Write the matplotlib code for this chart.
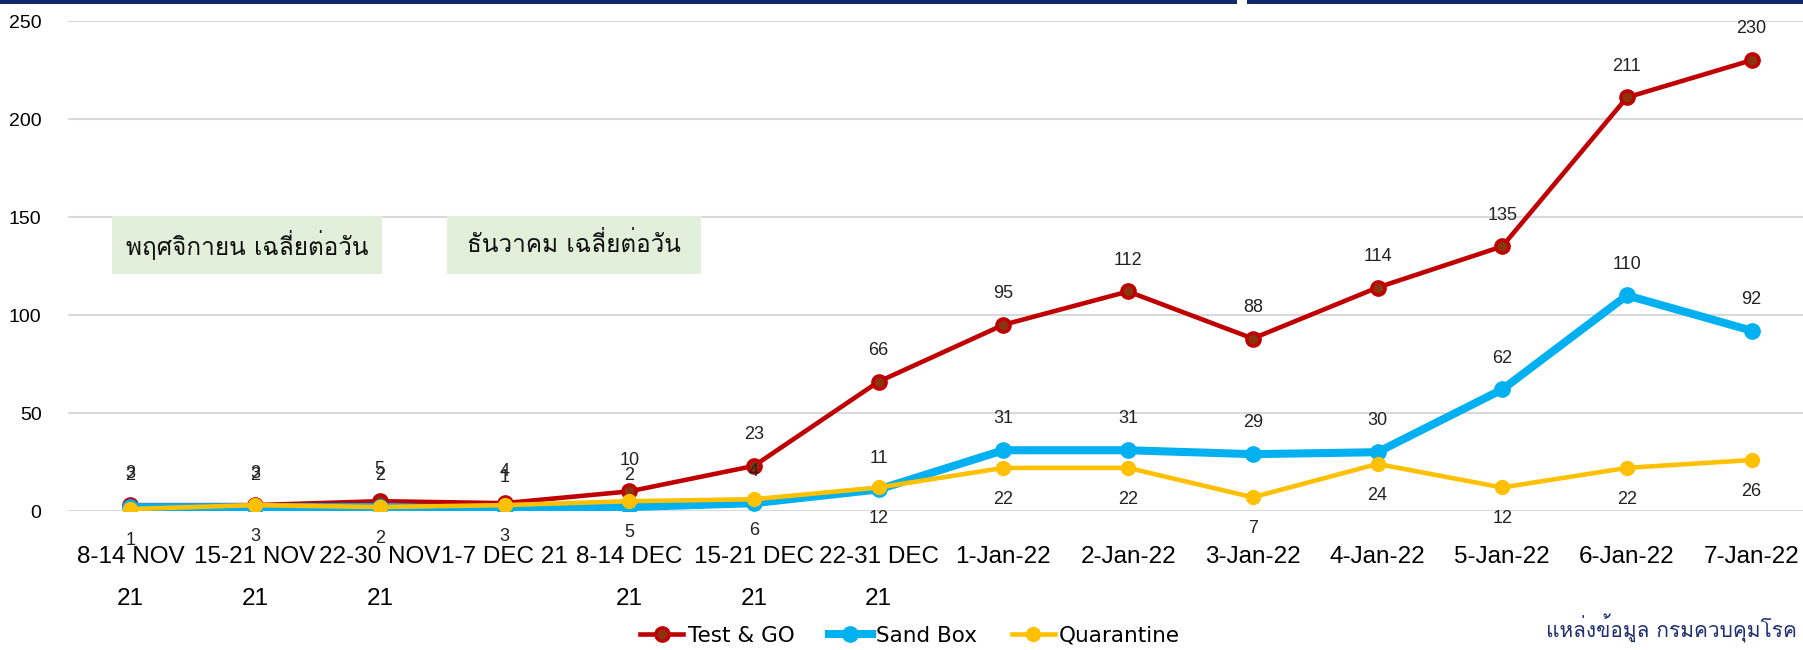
import matplotlib
matplotlib.use("Agg")
import matplotlib.pyplot as plt
from matplotlib import font_manager
from matplotlib.patches import Rectangle
from fontTools.ttLib import TTFont

# ---------------- data ----------------
categories = ["8-14 NOV\n21", "15-21 NOV\n21", "22-30 NOV\n21", "1-7 DEC 21",
              "8-14 DEC\n21", "15-21 DEC\n21", "22-31 DEC\n21", "1-Jan-22",
              "2-Jan-22", "3-Jan-22", "4-Jan-22", "5-Jan-22", "6-Jan-22", "7-Jan-22"]
test_go = [3, 3, 5, 4, 10, 23, 66, 95, 112, 88, 114, 135, 211, 230]
sand_box = [2, 2, 2, 1, 2, 4, 11, 31, 31, 29, 30, 62, 110, 92]
quarantine = [1, 3, 2, 3, 5, 6, 12, 22, 22, 7, 24, 12, 22, 26]
yticks = [0, 50, 100, 150, 200, 250]
box_labels = ["พฤศจิกายน เฉลี่ยต่อวัน", "ธันวาคม เฉลี่ยต่อวัน"]
source_text = "แหล่งข้อมูล กรมควบคุมโรค"


def thai_font():
    # look for any installed font that covers Thai
    for f in font_manager.fontManager.ttflist:
        try:
            cmap = TTFont(f.fname, fontNumber=0, lazy=True).getBestCmap()
            if cmap and 0x0E01 in cmap and 0x0E40 in cmap:
                return f.name
        except Exception:
            pass
    return "DejaVu Sans"


lib = ["Liberation Sans", "DejaVu Sans"]
thai = [thai_font(), "DejaVu Sans"]

RED, BLUE, YEL = "#c00000", "#00b0f0", "#ffc000"

fig = plt.figure(figsize=(18.03, 6.5), dpi=100)
W, H = 1803, 650
ax = fig.add_axes([68 / W, (H - 511) / H, 1746 / W, 490 / H])
x = list(range(len(categories)))

ax.plot(x, test_go, color=RED, lw=3.3, marker="o", ms=9.5, mfc="#8a3510",
        mec=RED, mew=2.5, zorder=3, label="Test & GO")
ax.plot(x, sand_box, color=BLUE, lw=5.8, marker="o", ms=11, mfc=BLUE,
        mec=BLUE, zorder=4, label="Sand Box")
ax.plot(x, quarantine, color=YEL, lw=3.3, marker="o", ms=10, mfc=YEL,
        mec=YEL, zorder=5, label="Quarantine")

for xi, v in zip(x, test_go):
    ax.annotate(str(v), (xi, v), xytext=(0, 22.5), textcoords="offset points",
                ha="center", va="center", fontsize=13, family=lib, color="#222222")
for xi, v in zip(x, sand_box):
    ax.annotate(str(v), (xi, v), xytext=(0, 22.5), textcoords="offset points",
                ha="center", va="center", fontsize=13, family=lib, color="#222222")
for xi, v in zip(x, quarantine):
    ax.annotate(str(v), (xi, v), xytext=(0, -22.5), textcoords="offset points",
                ha="center", va="center", fontsize=13, family=lib, color="#222222")

ax.set_xlim(-0.5, len(categories) - 0.5)
ax.set_ylim(0, 250)
ax.set_yticks(yticks)
ax.set_xticks(x)
ax.set_xticklabels(categories, fontsize=17.5, family=lib, linespacing=2.2, va="top")
ax.tick_params(axis="x", length=0, pad=25)
ax.tick_params(axis="y", length=0, pad=19)
for lab in ax.get_yticklabels():
    lab.set_fontsize(14)
    lab.set_family(lib)
ax.grid(axis="y", color="#d9d9d9", lw=1.5)
ax.set_axisbelow(True)
for s in ax.spines.values():
    s.set_visible(False)

leg = fig.legend(loc="center", bbox_to_anchor=(910 / W, (H - 636) / H), ncol=3,
                 frameon=False, fontsize=15.5, handlelength=2.0, handletextpad=0.2,
                 columnspacing=1.6)

# green note boxes
for (x0, x1), txt in zip([(112, 382), (447, 701)], box_labels):
    fig.patches.append(Rectangle((x0 / W, (H - 274) / H), (x1 - x0) / W, 58 / H,
                                 transform=fig.transFigure, facecolor="#e2efda",
                                 edgecolor="none", zorder=1))
    fig.text((x0 + x1) / 2 / W, (H - 245) / H, txt, ha="center", va="center",
             fontsize=17.5, family=thai, color="#111111", zorder=6)

fig.text(1797 / W, (H - 628) / H, source_text, ha="right", va="center",
         fontsize=15, family=thai, color="#1f3070")

# top navy bar
fig.patches.append(Rectangle((0, 1 - 4 / H), 1237 / W, 4 / H, transform=fig.transFigure,
                             facecolor="#13296b", edgecolor="none"))
fig.patches.append(Rectangle((1247 / W, 1 - 4 / H), (W - 1247) / W, 4 / H,
                             transform=fig.transFigure, facecolor="#13296b", edgecolor="none"))

fig.savefig("out.png", dpi=100)
